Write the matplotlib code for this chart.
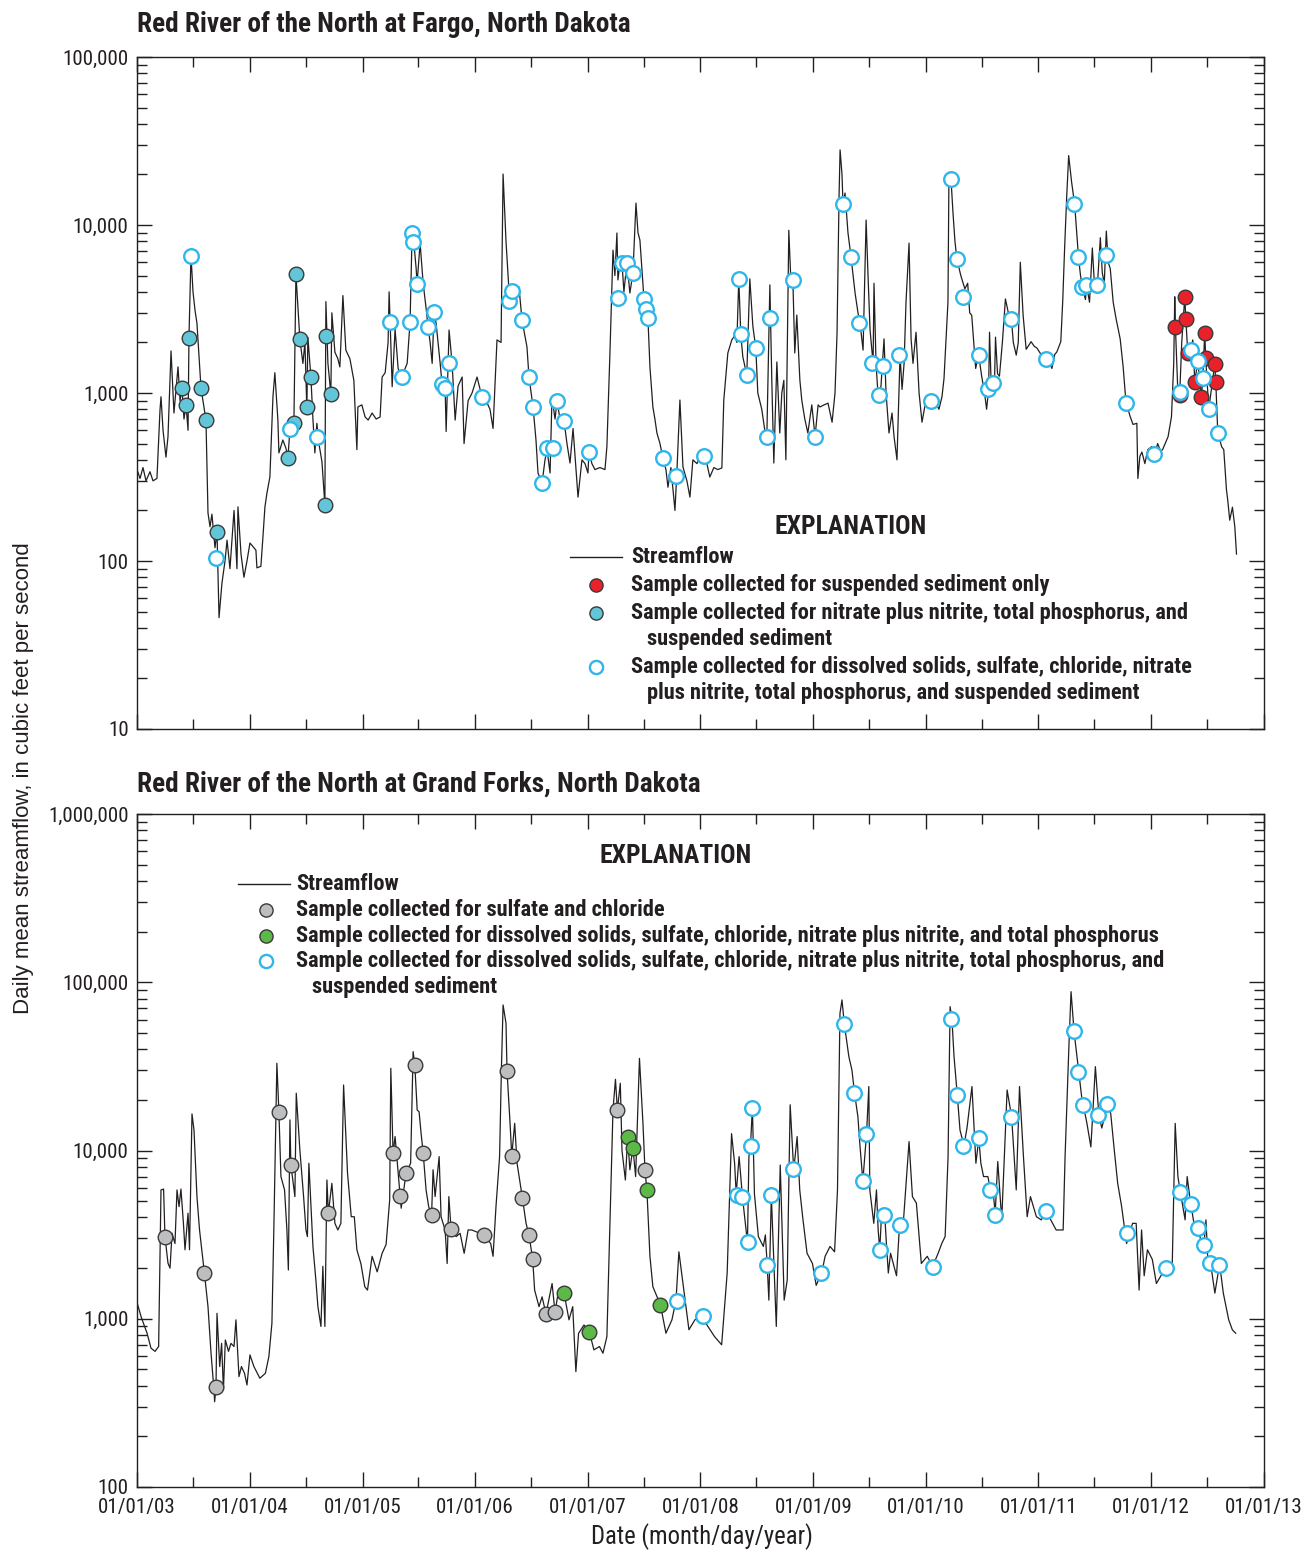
import numpy as np
import pandas as pd
import matplotlib
matplotlib.use('Agg')
import matplotlib.pyplot as plt
import matplotlib.dates as mdates
from matplotlib import font_manager
from matplotlib.lines import Line2D
from matplotlib.ticker import LogLocator, FuncFormatter, NullFormatter

# pick the narrowest sans face that is installed; sizes below are tuned for Roboto
_installed = {f.name for f in font_manager.fontManager.ttflist}
_faces = [('Liberation Sans Narrow', 1.12), ('Roboto Condensed', 1.12), ('Roboto', 1.0), ('DejaVu Sans', 0.88)]
NARROW_FACE, FS = next((n, k) for n, k in _faces if n in _installed or n == 'DejaVu Sans')
NARROW = [NARROW_FACE, 'DejaVu Sans']
WIDE = ['Liberation Sans', 'DejaVu Sans']
INK = '#231f20'

plt.rcParams['font.family'] = NARROW
plt.rcParams['text.color'] = INK

# --- Fargo: daily mean streamflow (decimal year, ft3/s) ---
fargo_flow = [
    (2003.000, 350), (2003.027, 310), (2003.053, 360), (2003.080, 300), (2003.115, 340), (2003.142, 300), (2003.177, 310),
    (2003.204, 790), (2003.213, 950), (2003.231, 600), (2003.257, 415), (2003.275, 550), (2003.302, 1780), (2003.328, 760),
    (2003.364, 1430), (2003.382, 900), (2003.399, 1070), (2003.417, 700), (2003.435, 850), (2003.453, 600), (2003.461, 2120),
    (2003.479, 6600), (2003.497, 4000), (2003.515, 3100), (2003.532, 2600), (2003.568, 1070), (2003.612, 690), (2003.630, 193),
    (2003.648, 160), (2003.665, 190), (2003.692, 120), (2003.710, 149), (2003.728, 46), (2003.754, 74), (2003.781, 100),
    (2003.799, 133), (2003.825, 90), (2003.861, 200), (2003.887, 90), (2003.896, 210), (2003.923, 110), (2003.949, 80),
    (2003.976, 100), (2004.003, 128), (2004.056, 116), (2004.065, 91), (2004.100, 93), (2004.118, 138), (2004.136, 210),
    (2004.154, 254), (2004.180, 316), (2004.207, 946), (2004.224, 1320), (2004.251, 690), (2004.260, 440), (2004.295, 525),
    (2004.322, 470), (2004.340, 410), (2004.358, 610), (2004.393, 660), (2004.411, 5100), (2004.446, 2100), (2004.473, 1500),
    (2004.491, 2000), (2004.508, 800), (2004.517, 2150), (2004.544, 1240), (2004.562, 700), (2004.579, 440), (2004.597, 660),
    (2004.615, 500), (2004.642, 390), (2004.668, 215), (2004.677, 3500), (2004.695, 1500), (2004.721, 986), (2004.730, 3000),
    (2004.757, 1750), (2004.783, 1600), (2004.801, 1430), (2004.828, 3800), (2004.854, 1800), (2004.890, 1600), (2004.925, 1190),
    (2004.952, 460), (2004.961, 826), (2004.996, 850), (2005.023, 720), (2005.050, 690), (2005.085, 760), (2005.121, 700),
    (2005.156, 720), (2005.174, 1245), (2005.201, 1320), (2005.227, 2000), (2005.236, 4000), (2005.245, 2650), (2005.263, 1090),
    (2005.289, 2400), (2005.316, 1400), (2005.334, 1300), (2005.351, 1245), (2005.378, 1400), (2005.396, 1500), (2005.422, 2650),
    (2005.440, 9000), (2005.458, 7500), (2005.476, 5500), (2005.484, 4470), (2005.511, 7800), (2005.538, 4500), (2005.564, 3200),
    (2005.582, 2470), (2005.600, 2000), (2005.618, 1500), (2005.635, 3030), (2005.653, 2600), (2005.689, 1500), (2005.706, 1130),
    (2005.733, 1070), (2005.742, 590), (2005.768, 2370), (2005.795, 1500), (2005.822, 690), (2005.848, 1100), (2005.884, 1245),
    (2005.901, 500), (2005.937, 900), (2005.972, 1000), (2006.017, 1245), (2006.061, 946), (2006.097, 900), (2006.132, 800),
    (2006.159, 615), (2006.194, 2070), (2006.230, 2000), (2006.248, 20100), (2006.274, 8000), (2006.301, 4000), (2006.327, 4050),
    (2006.354, 3500), (2006.389, 4270), (2006.416, 2720), (2006.460, 1880), (2006.478, 1245), (2006.514, 826), (2006.540, 525),
    (2006.558, 334), (2006.594, 291), (2006.620, 400), (2006.638, 460), (2006.665, 334), (2006.682, 946), (2006.709, 700),
    (2006.727, 896), (2006.753, 700), (2006.789, 680), (2006.815, 500), (2006.842, 383), (2006.869, 615), (2006.895, 350),
    (2006.913, 240), (2006.948, 400), (2006.975, 380), (2007.002, 334), (2007.011, 446), (2007.037, 380), (2007.064, 350),
    (2007.108, 360), (2007.153, 350), (2007.170, 480), (2007.197, 1730), (2007.224, 7080), (2007.241, 5000), (2007.259, 8960),
    (2007.268, 4710), (2007.286, 6000), (2007.304, 5950), (2007.321, 4000), (2007.348, 6000), (2007.374, 3940), (2007.401, 5180),
    (2007.428, 13500), (2007.446, 9000), (2007.463, 8130), (2007.499, 3630), (2007.517, 3160), (2007.534, 2790), (2007.552, 1430),
    (2007.578, 826), (2007.596, 700), (2007.614, 578), (2007.641, 500), (2007.667, 410), (2007.694, 350), (2007.712, 275),
    (2007.738, 360), (2007.774, 200), (2007.792, 350), (2007.818, 908), (2007.845, 363), (2007.880, 300), (2007.907, 240),
    (2007.933, 400), (2007.969, 380), (2007.996, 420), (2008.031, 422), (2008.058, 380), (2008.084, 316), (2008.120, 360),
    (2008.155, 350), (2008.191, 358), (2008.208, 908), (2008.244, 1730), (2008.279, 2070), (2008.306, 2200), (2008.324, 2000),
    (2008.341, 4780), (2008.359, 2240), (2008.377, 1640), (2008.412, 1280), (2008.439, 4780), (2008.466, 2500), (2008.492, 1850),
    (2008.510, 1000), (2008.545, 800), (2008.572, 600), (2008.590, 550), (2008.617, 4400), (2008.634, 1200), (2008.652, 383),
    (2008.679, 1530), (2008.705, 578), (2008.723, 1000), (2008.741, 1190), (2008.759, 400), (2008.785, 9300), (2008.803, 4700),
    (2008.821, 4710), (2008.838, 1730), (2008.856, 2910), (2008.883, 1200), (2008.900, 908), (2008.927, 700), (2008.954, 578),
    (2008.989, 850), (2009.016, 550), (2009.043, 850), (2009.060, 826), (2009.096, 850), (2009.131, 870), (2009.167, 670),
    (2009.193, 1000), (2009.211, 2280), (2009.229, 15000), (2009.238, 28000), (2009.255, 20000), (2009.264, 13300), (2009.282, 15500),
    (2009.308, 9000), (2009.335, 6460), (2009.371, 3940), (2009.397, 3000), (2009.415, 2610), (2009.442, 1800), (2009.469, 10700),
    (2009.486, 5000), (2009.504, 2370), (2009.531, 1500), (2009.539, 4500), (2009.557, 1500), (2009.575, 970), (2009.601, 1100),
    (2009.628, 2100), (2009.646, 1000), (2009.672, 578), (2009.699, 760), (2009.717, 550), (2009.743, 400), (2009.770, 1680),
    (2009.788, 1050), (2009.806, 1500), (2009.823, 3470), (2009.850, 7800), (2009.868, 2100), (2009.885, 1500), (2009.912, 2300),
    (2009.939, 1000), (2009.965, 670), (2010.001, 910), (2010.028, 850), (2010.054, 900), (2010.090, 870), (2010.116, 800),
    (2010.143, 950), (2010.161, 1220), (2010.178, 2000), (2010.196, 3470), (2010.205, 20600), (2010.223, 18800), (2010.240, 12000),
    (2010.258, 8000), (2010.275, 6300), (2010.310, 5000), (2010.346, 4170), (2010.371, 4500), (2010.389, 3000), (2010.407, 2900),
    (2010.425, 2000), (2010.442, 1400), (2010.468, 1700), (2010.495, 1260), (2010.521, 1000), (2010.539, 800), (2010.557, 1050),
    (2010.565, 2300), (2010.582, 1000), (2010.609, 1150), (2010.618, 2150), (2010.636, 1300), (2010.653, 1260), (2010.679, 2000),
    (2010.706, 3630), (2010.732, 3000), (2010.759, 2760), (2010.776, 2000), (2010.802, 1680), (2010.820, 2000), (2010.838, 6000),
    (2010.863, 2900), (2010.890, 1820), (2010.934, 2020), (2010.961, 1900), (2010.986, 1850), (2011.022, 1700), (2011.049, 1600),
    (2011.074, 1590), (2011.101, 1500), (2011.119, 1400), (2011.145, 1700), (2011.162, 1750), (2011.198, 2020), (2011.215, 3500),
    (2011.233, 7600), (2011.251, 15000), (2011.268, 25900), (2011.294, 18000), (2011.321, 13300), (2011.339, 9000), (2011.355, 6460),
    (2011.373, 5000), (2011.382, 4600), (2011.400, 4000), (2011.417, 3600), (2011.426, 4400), (2011.453, 3470), (2011.478, 7300),
    (2011.496, 4500), (2011.514, 4000), (2011.523, 4400), (2011.549, 8400), (2011.566, 5200), (2011.584, 4500), (2011.602, 9200),
    (2011.619, 6000), (2011.637, 5500), (2011.663, 3470), (2011.689, 2760), (2011.725, 2100), (2011.751, 1440), (2011.777, 870),
    (2011.795, 800), (2011.812, 730), (2011.839, 650), (2011.873, 660), (2011.882, 310), (2011.900, 420), (2011.918, 445),
    (2011.944, 380), (2011.970, 460), (2012.006, 480), (2012.023, 410), (2012.058, 500), (2012.085, 450), (2012.102, 460),
    (2012.151, 550), (2012.181, 723), (2012.201, 1500), (2012.210, 3740), (2012.216, 2470), (2012.237, 1040), (2012.255, 1020),
    (2012.272, 2000), (2012.299, 3740), (2012.308, 2760), (2012.326, 1730), (2012.352, 1810), (2012.370, 2070), (2012.388, 1170),
    (2012.414, 1540), (2012.447, 950), (2012.459, 1230), (2012.476, 2280), (2012.485, 1610), (2012.512, 803), (2012.539, 1100),
    (2012.565, 1490), (2012.574, 1170), (2012.592, 578), (2012.627, 478), (2012.645, 460), (2012.669, 265), (2012.680, 231),
    (2012.698, 175), (2012.722, 209), (2012.743, 160), (2012.758, 110),
]

# Fargo samples
fargo_ssc_only = [
    (2012.216, 2470), (2012.258, 975), (2012.299, 3740), (2012.308, 2760), (2012.326, 1730), (2012.388, 1170),
    (2012.447, 950), (2012.476, 2280), (2012.485, 1610), (2012.565, 1490), (2012.574, 1170),
]
fargo_nutrients = [
    (2003.399, 1070), (2003.435, 850), (2003.461, 2120), (2003.568, 1070), (2003.612, 690), (2003.710, 149),
    (2004.340, 410), (2004.393, 660), (2004.411, 5100), (2004.446, 2100), (2004.508, 826), (2004.544, 1240),
    (2004.668, 215), (2004.677, 2190), (2004.721, 986),
]
fargo_full_suite = [
    (2003.479, 6530), (2003.701, 104), (2004.358, 610), (2004.597, 550),
    (2005.245, 2650), (2005.351, 1245), (2005.422, 2650), (2005.436, 8960), (2005.444, 7900), (2005.484, 4470),
    (2005.582, 2470), (2005.635, 3030), (2005.706, 1130), (2005.733, 1070), (2005.768, 1500),
    (2006.061, 946), (2006.301, 3530), (2006.327, 4050), (2006.416, 2720), (2006.478, 1245), (2006.514, 826),
    (2006.594, 291), (2006.638, 471), (2006.691, 471), (2006.727, 896), (2006.789, 680),
    (2007.011, 446), (2007.268, 3670), (2007.304, 5950), (2007.348, 5950), (2007.401, 5180), (2007.499, 3630),
    (2007.517, 3160), (2007.534, 2790), (2007.667, 410), (2007.783, 320),
    (2008.031, 422), (2008.341, 4780), (2008.359, 2240), (2008.412, 1280), (2008.492, 1850), (2008.590, 550),
    (2008.617, 2790), (2008.821, 4710),
    (2009.016, 550), (2009.264, 13300), (2009.335, 6460), (2009.406, 2610), (2009.522, 1500), (2009.584, 970),
    (2009.619, 1440), (2009.761, 1680),
    (2010.045, 900), (2010.222, 18800), (2010.275, 6300), (2010.328, 3720), (2010.470, 1680), (2010.551, 1050),
    (2010.595, 1150), (2010.755, 2760),
    (2011.066, 1590), (2011.314, 13300), (2011.350, 6460), (2011.385, 4270), (2011.421, 4400), (2011.518, 4400),
    (2011.598, 6600), (2011.775, 870),
    (2012.024, 434), (2012.255, 1020), (2012.352, 1810), (2012.414, 1540), (2012.459, 1230), (2012.512, 803),
    (2012.592, 578),
]

# --- Grand Forks: daily mean streamflow (decimal year, ft3/s) ---
grand_forks_flow = [
    (2003.000, 1250), (2003.040, 1010), (2003.089, 822), (2003.124, 669), (2003.160, 640), (2003.192, 684), (2003.213, 5830),
    (2003.236, 5900), (2003.248, 3080), (2003.275, 2140), (2003.293, 2000), (2003.311, 3220), (2003.337, 2800), (2003.355, 5830),
    (2003.373, 4640), (2003.390, 5900), (2003.412, 3690), (2003.426, 2570), (2003.453, 4240), (2003.466, 2570), (2003.488, 16500),
    (2003.506, 13200), (2003.532, 5320), (2003.555, 3370), (2003.598, 1870), (2003.630, 1180), (2003.657, 624), (2003.683, 378),
    (2003.689, 321), (2003.701, 395), (2003.710, 1077), (2003.734, 520), (2003.751, 714), (2003.767, 378), (2003.784, 748),
    (2003.812, 640), (2003.834, 714), (2003.861, 684), (2003.878, 985), (2003.905, 453), (2003.927, 520), (2003.954, 474),
    (2003.976, 404), (2004.003, 610), (2004.038, 520), (2004.091, 443), (2004.140, 474), (2004.171, 596), (2004.198, 940),
    (2004.216, 3690), (2004.242, 33000), (2004.260, 16900), (2004.278, 7000), (2004.310, 5830), (2004.331, 3370), (2004.344, 1950),
    (2004.358, 15200), (2004.366, 8240), (2004.402, 5320), (2004.414, 21900), (2004.446, 10070), (2004.479, 5320), (2004.500, 3370),
    (2004.513, 3080), (2004.526, 8400), (2004.562, 2690), (2004.588, 1700), (2004.606, 1180), (2004.633, 900), (2004.650, 2050),
    (2004.668, 900), (2004.686, 6680), (2004.699, 4240), (2004.730, 6380), (2004.757, 3690), (2004.783, 3370), (2004.810, 3690),
    (2004.834, 24500), (2004.869, 7330), (2004.902, 4040), (2004.929, 4040), (2004.952, 2570), (2004.988, 2120), (2005.020, 1550),
    (2005.044, 1480), (2005.085, 2350), (2005.130, 1900), (2005.174, 2450), (2005.209, 2760), (2005.241, 5080), (2005.251, 30800),
    (2005.271, 9630), (2005.289, 12100), (2005.334, 5370), (2005.343, 4540), (2005.387, 7380), (2005.427, 8400), (2005.449, 38700),
    (2005.464, 32200), (2005.485, 17400), (2005.502, 17000), (2005.520, 12600), (2005.538, 9720), (2005.564, 5830), (2005.587, 4640),
    (2005.613, 4140), (2005.626, 7680), (2005.644, 5320), (2005.680, 9200), (2005.697, 4040), (2005.733, 3370), (2005.751, 2130),
    (2005.766, 5320), (2005.786, 3400), (2005.831, 3080), (2005.866, 3220), (2005.902, 2450), (2005.937, 3370), (2005.969, 3370),
    (2006.079, 3150), (2006.138, 2800), (2006.159, 2350), (2006.185, 4640), (2006.217, 9200), (2006.233, 30100), (2006.248, 73300),
    (2006.274, 57000), (2006.283, 29700), (2006.310, 14500), (2006.325, 9300), (2006.351, 14500), (2006.372, 8400), (2006.420, 5200),
    (2006.452, 3690), (2006.478, 3150), (2006.511, 2250), (2006.528, 1480), (2006.567, 1180), (2006.594, 1350), (2006.629, 1070),
    (2006.683, 1620), (2006.709, 1090), (2006.731, 1350), (2006.789, 1420), (2006.833, 985), (2006.866, 1180), (2006.894, 485),
    (2006.918, 820), (2006.966, 918), (2007.015, 832), (2007.055, 653), (2007.104, 684), (2007.135, 624), (2007.170, 783),
    (2007.197, 3690), (2007.224, 17400), (2007.246, 26500), (2007.263, 17400), (2007.289, 25100), (2007.304, 10000), (2007.334, 6680),
    (2007.354, 12000), (2007.374, 7680), (2007.401, 10400), (2007.425, 7000), (2007.459, 35300), (2007.490, 14500), (2007.508, 7630),
    (2007.525, 5820), (2007.552, 2350), (2007.578, 1550), (2007.645, 1210), (2007.694, 820), (2007.747, 985), (2007.783, 1280),
    (2007.809, 2500), (2007.845, 1620), (2007.898, 860), (2007.951, 985), (2008.004, 1045), (2008.125, 785), (2008.189, 700),
    (2008.238, 1870), (2008.277, 12600), (2008.304, 8400), (2008.318, 5520), (2008.344, 9200), (2008.374, 5270), (2008.399, 3690),
    (2008.418, 2840), (2008.431, 9200), (2008.445, 10700), (2008.462, 18000), (2008.480, 5520), (2008.515, 3080), (2008.559, 2690),
    (2008.577, 3150), (2008.593, 2110), (2008.608, 1290), (2008.630, 5400), (2008.674, 900), (2008.709, 8200), (2008.744, 1290),
    (2008.771, 1700), (2008.797, 18700), (2008.828, 7740), (2008.841, 9200), (2008.859, 12100), (2008.882, 5830), (2008.911, 3870),
    (2008.947, 2450), (2008.995, 2130), (2009.026, 1580), (2009.076, 1880), (2009.105, 2350), (2009.149, 2690), (2009.189, 2500),
    (2009.215, 5830), (2009.237, 65300), (2009.255, 78500), (2009.276, 56200), (2009.316, 36100), (2009.343, 30100), (2009.367, 21800),
    (2009.396, 15900), (2009.413, 11000), (2009.440, 6590), (2009.473, 12600), (2009.493, 24000), (2009.502, 5830), (2009.537, 3690),
    (2009.561, 5830), (2009.576, 3370), (2009.590, 2570), (2009.607, 4300), (2009.634, 4180), (2009.647, 2950), (2009.666, 1870),
    (2009.686, 2450), (2009.739, 1800), (2009.766, 3650), (2009.801, 3870), (2009.850, 11300), (2009.880, 5320), (2009.915, 4870),
    (2009.959, 2130), (2010.012, 2350), (2010.060, 2050), (2010.109, 2450), (2010.141, 2800), (2010.171, 3080), (2010.197, 9200),
    (2010.215, 71600), (2010.231, 60800), (2010.250, 36100), (2010.279, 21300), (2010.303, 13200), (2010.338, 10700), (2010.365, 13600),
    (2010.409, 24000), (2010.444, 8400), (2010.470, 11800), (2010.488, 8400), (2010.512, 7000), (2010.550, 7000), (2010.576, 5750),
    (2010.594, 6100), (2010.615, 4200), (2010.638, 8600), (2010.673, 3870), (2010.721, 22900), (2010.761, 15900), (2010.802, 5830),
    (2010.831, 24000), (2010.866, 9200), (2010.899, 4040), (2010.928, 5320), (2010.981, 4040), (2011.025, 3870), (2011.069, 4380),
    (2011.109, 3870), (2011.157, 3370), (2011.219, 3370), (2011.236, 9200), (2011.272, 45400), (2011.289, 87900), (2011.316, 50800),
    (2011.357, 29300), (2011.383, 20900), (2011.399, 18500), (2011.430, 14500), (2011.465, 10500), (2011.505, 31500), (2011.536, 16200),
    (2011.562, 13600), (2011.615, 18900), (2011.641, 16600), (2011.673, 10000), (2011.703, 6380), (2011.738, 4640), (2011.782, 2800),
    (2011.835, 3690), (2011.867, 3690), (2011.893, 1480), (2011.915, 3370), (2011.938, 1800), (2011.967, 2570), (2012.011, 2250),
    (2012.047, 1620), (2012.131, 2020), (2012.188, 2130), (2012.214, 14500), (2012.238, 7000), (2012.258, 5750), (2012.302, 3870),
    (2012.320, 7000), (2012.350, 4910), (2012.390, 3370), (2012.416, 3500), (2012.447, 2800), (2012.469, 2750), (2012.487, 3870),
    (2012.505, 2130), (2012.527, 2160), (2012.566, 1420), (2012.608, 2120), (2012.641, 1420), (2012.689, 985), (2012.721, 860),
    (2012.751, 820),
]

# Grand Forks samples
gf_sulfate_chloride = [
    (2003.248, 3080), (2003.594, 1870), (2003.701, 395), (2004.260, 16900), (2004.366, 8240), (2004.699, 4240),
    (2005.272, 9630), (2005.334, 5370), (2005.387, 7380), (2005.464, 32200), (2005.538, 9720), (2005.613, 4140),
    (2005.786, 3400), (2006.079, 3150), (2006.283, 29700), (2006.325, 9300), (2006.420, 5200), (2006.478, 3150),
    (2006.511, 2250), (2006.629, 1070), (2006.709, 1090), (2007.263, 17400), (2007.508, 7630),
]
gf_no_sediment = [
    (2006.789, 1420), (2007.015, 832), (2007.354, 12000), (2007.401, 10400), (2007.525, 5820), (2007.645, 1210),
]
gf_full_suite = [
    (2007.791, 1270), (2008.022, 1040), (2008.324, 5430), (2008.368, 5290), (2008.421, 2860), (2008.448, 10600),
    (2008.457, 17900), (2008.590, 2090), (2008.626, 5430), (2008.821, 7760), (2009.069, 1870), (2009.273, 56500),
    (2009.362, 22000), (2009.442, 6590), (2009.469, 12500), (2009.593, 2560), (2009.628, 4140), (2009.770, 3610),
    (2010.063, 2030), (2010.223, 60500), (2010.276, 21400), (2010.329, 10600), (2010.471, 11900), (2010.569, 5830),
    (2010.613, 4140), (2010.755, 15800), (2011.066, 4370), (2011.314, 51300), (2011.350, 29300), (2011.394, 18600),
    (2011.527, 16200), (2011.607, 18900), (2011.784, 3240), (2012.130, 2000), (2012.255, 5660), (2012.352, 4810),
    (2012.414, 3460), (2012.468, 2740), (2012.521, 2140), (2012.601, 2080),
]

RED = '#e8212b'
TEAL = '#62c6d8'
GRAY = '#bdbec0'
GREEN = '#5cb847'
SKY = '#2fb6ea'

filled = dict(ls='none', marker='o', ms=10.5, mew=1.0, mec='#3a3a3a')
hollow = dict(ls='none', marker='o', ms=10.5, mew=1.7, mec=SKY, mfc='white')


def to_dates(years):
    years = np.asarray(years, dtype=float)
    whole = np.floor(years).astype(int)
    start = pd.to_datetime([f'{y}-01-01' for y in whole])
    return start + pd.to_timedelta((years - whole) * 365.25, unit='D')


def unpack(pairs):
    t, q = zip(*pairs)
    return to_dates(t), np.array(q, dtype=float)


def style_axis(ax, ymin, ymax):
    ax.set_yscale('log')
    ax.set_ylim(ymin, ymax)
    ax.set_xlim(pd.Timestamp('2003-01-01'), pd.Timestamp('2013-01-01'))
    ax.xaxis.set_major_locator(mdates.YearLocator())
    ax.xaxis.set_minor_locator(mdates.MonthLocator(bymonth=7))
    ax.xaxis.set_major_formatter(mdates.DateFormatter('%m/%d/%y'))
    ax.yaxis.set_major_locator(LogLocator(base=10))
    ax.yaxis.set_minor_locator(LogLocator(base=10, subs=range(2, 10)))
    ax.yaxis.set_minor_formatter(NullFormatter())
    ax.yaxis.set_major_formatter(FuncFormatter(lambda v, p: f'{v:,.0f}'))
    ax.tick_params(which='both', direction='in', top=True, right=True,
                   width=1.0, color=INK, labelsize=13.5 * FS, labelcolor=INK, pad=6)
    ax.tick_params(axis='x', which='both', pad=8)
    ax.tick_params(which='major', length=10.5)
    ax.tick_params(which='minor', length=7)
    for s in ax.spines.values():
        s.set_linewidth(1.0)
        s.set_color(INK)


W, H = 1304, 1550


def fx(x):
    return x / W


def fy(y):
    return 1 - y / H


fig = plt.figure(figsize=(W / 100, H / 100), dpi=100)
ax1 = fig.add_axes([fx(137), fy(729), (1264 - 137) / W, (729 - 57) / H])
ax2 = fig.add_axes([fx(137), fy(1487), (1264 - 137) / W, (1487 - 814) / H])

# Fargo
d, q = unpack(fargo_flow)
ax1.plot(d, q, color=INK, lw=0.9, zorder=2)
d, q = unpack(fargo_nutrients)
ax1.plot(d, q, mfc=TEAL, zorder=3, **filled)
d, q = unpack(fargo_ssc_only)
ax1.plot(d, q, mfc=RED, zorder=3, **filled)
d, q = unpack(fargo_full_suite)
ax1.plot(d, q, zorder=4, **hollow)
style_axis(ax1, 10, 100000)
ax1.tick_params(labelbottom=False)

# Grand Forks
d, q = unpack(grand_forks_flow)
ax2.plot(d, q, color=INK, lw=0.9, zorder=2)
d, q = unpack(gf_sulfate_chloride)
ax2.plot(d, q, mfc=GRAY, zorder=3, **filled)
d, q = unpack(gf_no_sediment)
ax2.plot(d, q, mfc=GREEN, zorder=3, **filled)
d, q = unpack(gf_full_suite)
ax2.plot(d, q, zorder=4, **hollow)
style_axis(ax2, 100, 1000000)

# titles and axis labels
fig.text(fx(137), fy(24), 'Red River of the North at Fargo, North Dakota',
         fontsize=17.5 * FS, fontweight='bold', ha='left', va='center')
fig.text(fx(137), fy(784), 'Red River of the North at Grand Forks, North Dakota',
         fontsize=17.5 * FS, fontweight='bold', ha='left', va='center')
fig.text(fx(24), fy(778), 'Daily mean streamflow, in cubic feet per second',
         family=WIDE, fontsize=16, rotation=90, ha='center', va='center')
fig.text(fx(702), fy(1537), 'Date (month/day/year)', fontsize=15.8 * FS, ha='center', va='center')


def key_line(x0, x1, y):
    fig.add_artist(Line2D([fx(x0), fx(x1)], [fy(y), fy(y)], color=INK, lw=1.0,
                          transform=fig.transFigure))


def key_marker(x, y, style, **kw):
    opts = dict(style)
    opts['ms'] = 9.5
    opts.update(kw)
    fig.add_artist(Line2D([fx(x)], [fy(y)], transform=fig.transFigure, **opts))


def key_text(x, y, s, size=14.4):
    fig.text(fx(x), fy(y), s, fontsize=size * FS, fontweight='bold', ha='left', va='center')


# explanation, Fargo
fig.text(fx(851), fy(527), 'EXPLANATION', fontsize=16.5 * FS, fontweight='bold', ha='center', va='center')
key_line(570, 622, 557)
key_text(631, 557, 'Streamflow')
key_marker(596, 585, filled, mfc=RED)
key_text(631, 585, 'Sample collected for suspended sediment only')
key_marker(596, 613, filled, mfc=TEAL)
key_text(631, 613, 'Sample collected for nitrate plus nitrite, total phosphorus, and')
key_text(647, 639, 'suspended sediment')
key_marker(596, 667, hollow)
key_text(631, 667, 'Sample collected for dissolved solids, sulfate, chloride, nitrate')
key_text(647, 693, 'plus nitrite, total phosphorus, and suspended sediment')

# explanation, Grand Forks
fig.text(fx(676), fy(856), 'EXPLANATION', fontsize=16.5 * FS, fontweight='bold', ha='center', va='center')
key_line(238, 290, 884)
key_text(296, 884, 'Streamflow')
key_marker(266, 910, filled, mfc=GRAY)
key_text(296, 910, 'Sample collected for sulfate and chloride')
key_marker(266, 936, filled, mfc=GREEN)
key_text(296, 936, 'Sample collected for dissolved solids, sulfate, chloride, nitrate plus nitrite, and total phosphorus')
key_marker(266, 961, hollow)
key_text(296, 961, 'Sample collected for dissolved solids, sulfate, chloride, nitrate plus nitrite, total phosphorus, and')
key_text(312, 987, 'suspended sediment')

fig.savefig('out.png', dpi=100)
